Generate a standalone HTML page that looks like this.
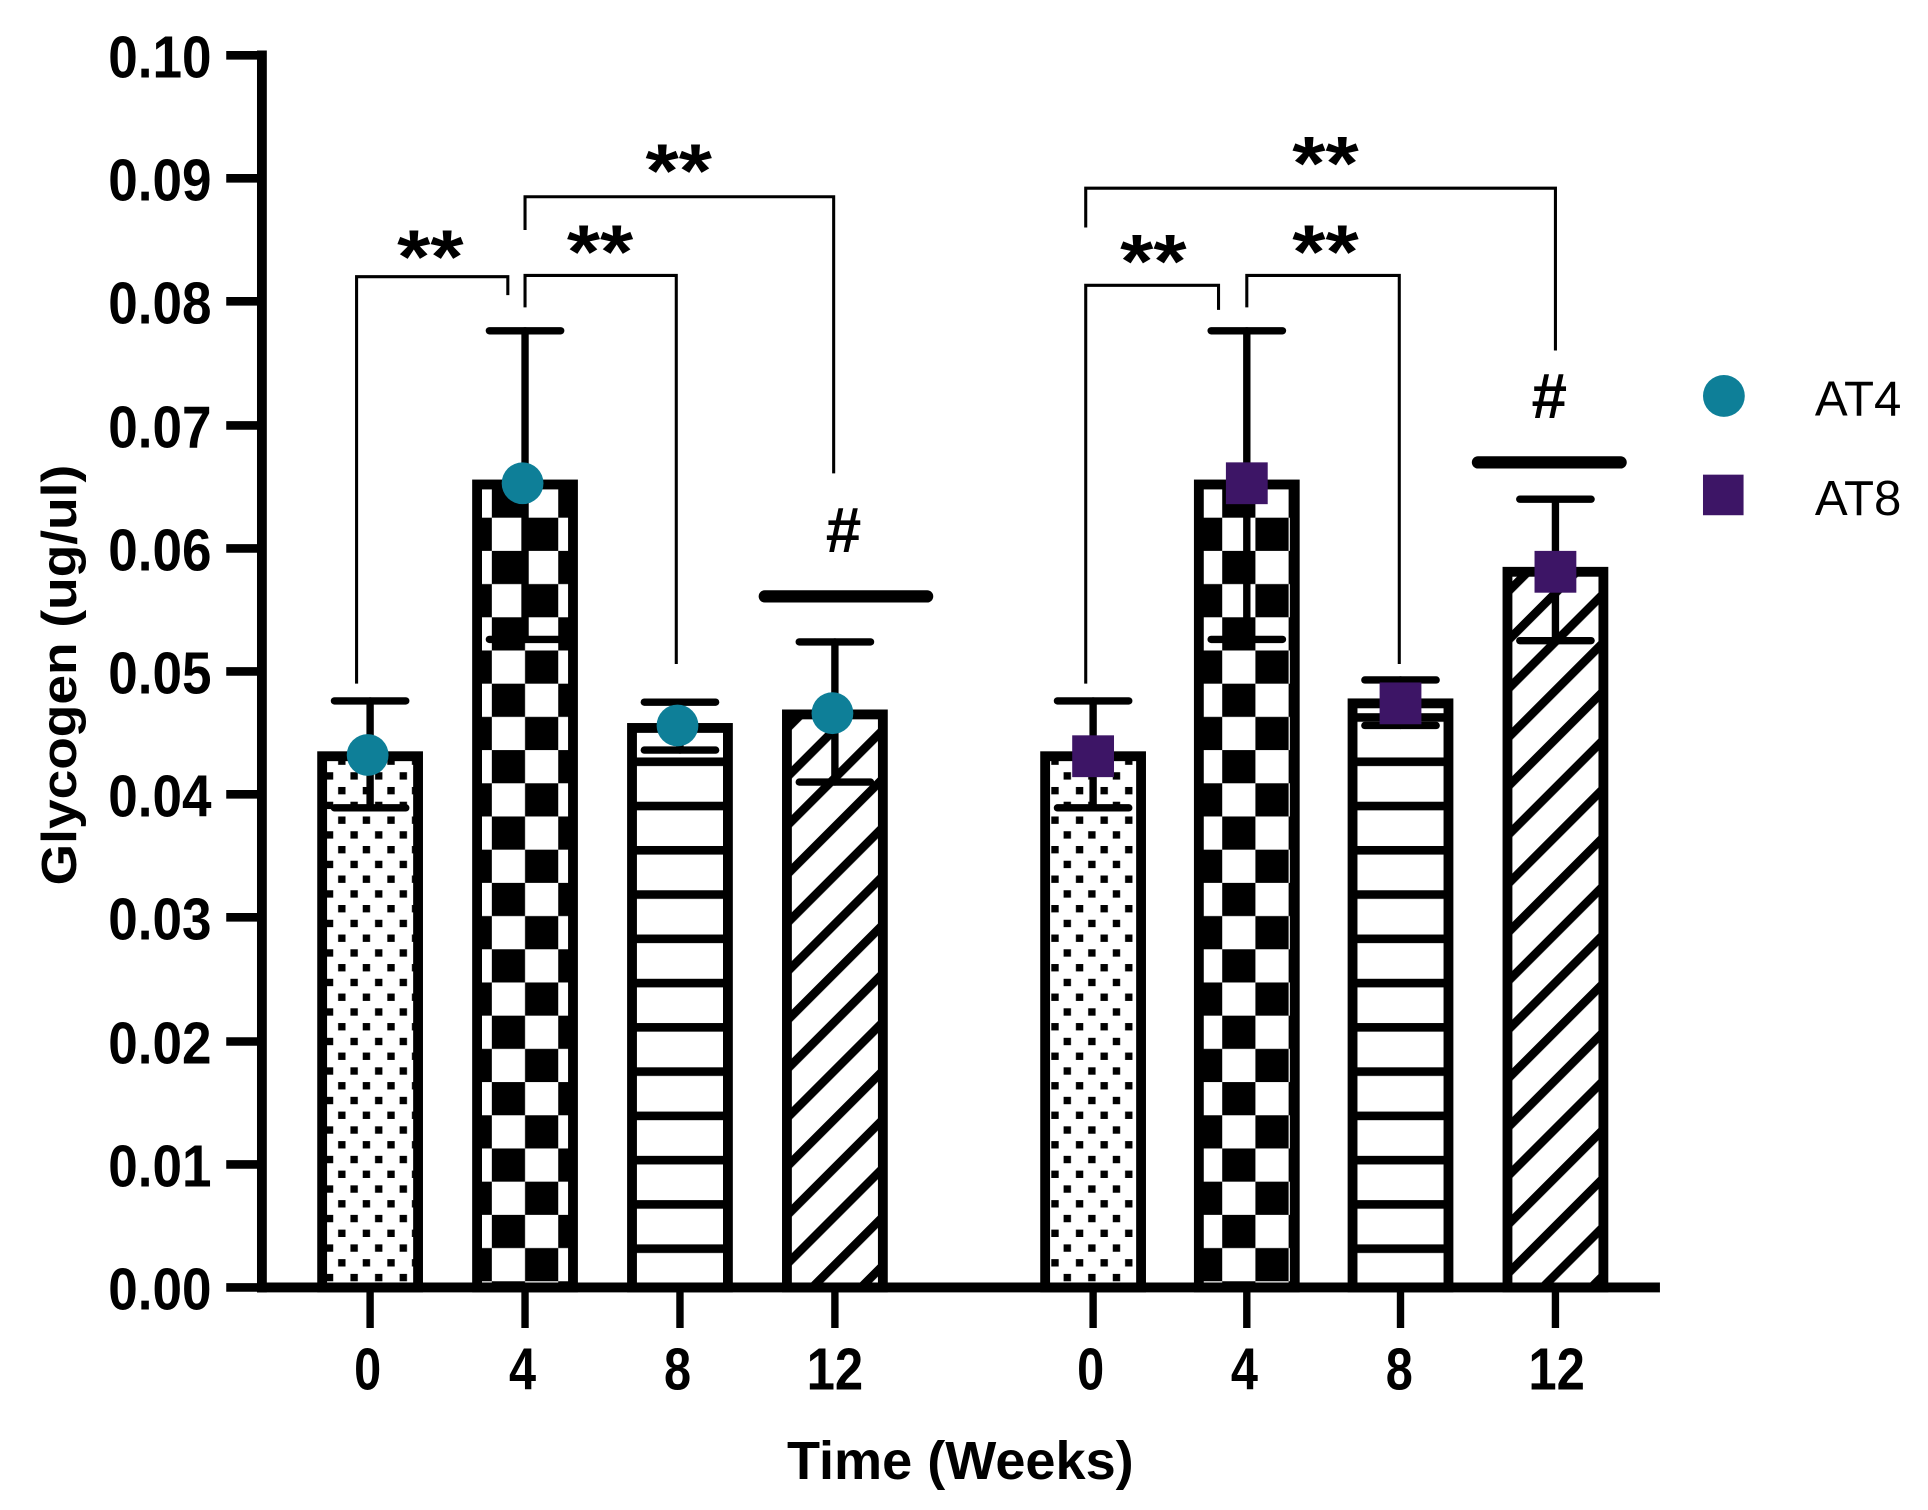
<!DOCTYPE html>
<html><head><meta charset="utf-8"><style>html,body{margin:0;padding:0;background:#fff}svg{display:block}</style></head>
<body>
<svg width="1928" height="1510" viewBox="0 0 1568 1228" xmlns="http://www.w3.org/2000/svg">
<defs>
<pattern id="dots" width="20" height="24" patternUnits="userSpaceOnUse" x="262" y="0">
<rect x="3" y="4" width="6" height="6" fill="#000"/><rect x="13" y="16" width="6" height="6" fill="#000"/>
</pattern>
<pattern id="chk" width="54" height="54" patternUnits="userSpaceOnUse" x="400" y="394">
<rect x="0" y="0" width="27" height="27" fill="#000"/><rect x="27" y="27" width="27" height="27" fill="#000"/>
</pattern>
<pattern id="hl" width="20" height="36" patternUnits="userSpaceOnUse" y="4">
<rect x="0" y="0" width="20" height="7" fill="#000"/>
</pattern>
<pattern id="diag" width="28" height="28" patternUnits="userSpaceOnUse" patternTransform="rotate(45)">
<rect x="0" y="0" width="7" height="28" fill="#000"/>
</pattern>
</defs>
<g font-family="'Liberation Sans', Arial, sans-serif" font-weight="bold" fill="#000">
<g stroke="#000" stroke-width="7">
<line x1="184" y1="45" x2="213" y2="45"/><line x1="184" y1="145" x2="213" y2="145"/><line x1="184" y1="245" x2="213" y2="245"/>
<line x1="184" y1="346" x2="213" y2="346"/><line x1="184" y1="446" x2="213" y2="446"/><line x1="184" y1="546" x2="213" y2="546"/>
<line x1="184" y1="646" x2="213" y2="646"/><line x1="184" y1="746" x2="213" y2="746"/><line x1="184" y1="847" x2="213" y2="847"/>
<line x1="184" y1="947" x2="213" y2="947"/><line x1="184" y1="1047" x2="213" y2="1047"/>
</g>
<g font-size="48" text-anchor="end">
<text x="172" y="63" textLength="84" lengthAdjust="spacingAndGlyphs">0.10</text>
<text x="172" y="163" textLength="84" lengthAdjust="spacingAndGlyphs">0.09</text>
<text x="172" y="263" textLength="84" lengthAdjust="spacingAndGlyphs">0.08</text>
<text x="172" y="364" textLength="84" lengthAdjust="spacingAndGlyphs">0.07</text>
<text x="172" y="464" textLength="84" lengthAdjust="spacingAndGlyphs">0.06</text>
<text x="172" y="564" textLength="84" lengthAdjust="spacingAndGlyphs">0.05</text>
<text x="172" y="664" textLength="84" lengthAdjust="spacingAndGlyphs">0.04</text>
<text x="172" y="764" textLength="84" lengthAdjust="spacingAndGlyphs">0.03</text>
<text x="172" y="865" textLength="84" lengthAdjust="spacingAndGlyphs">0.02</text>
<text x="172" y="965" textLength="84" lengthAdjust="spacingAndGlyphs">0.01</text>
<text x="172" y="1065" textLength="84" lengthAdjust="spacingAndGlyphs">0.00</text>
</g>
<text transform="translate(62,549) rotate(-90)" font-size="40" text-anchor="middle" textLength="342" lengthAdjust="spacingAndGlyphs">Glycogen (ug/ul)</text>

<g stroke="#000" stroke-width="8">
<rect x="262" y="615" width="78" height="432" fill="url(#dots)"/>
<rect x="388" y="394" width="78" height="653" fill="url(#chk)"/>
<rect x="514" y="592" width="78" height="455" fill="url(#hl)"/>
<rect x="640" y="581" width="78" height="466" fill="url(#diag)"/>
<rect x="850" y="615" width="78" height="432" fill="url(#dots)"/>
<rect x="975" y="394" width="78" height="653" fill="url(#chk)"/>
<rect x="1100" y="572" width="78" height="475" fill="url(#hl)"/>
<rect x="1226" y="465" width="78" height="582" fill="url(#diag)"/>
</g>
<g stroke="#000" stroke-width="6" stroke-linecap="round">
<line x1="301" y1="570" x2="301" y2="657"/><line x1="272" y1="570" x2="330" y2="570"/><line x1="272" y1="657" x2="330" y2="657"/>
<line x1="427" y1="269" x2="427" y2="520"/><line x1="398" y1="269" x2="456" y2="269"/><line x1="398" y1="520" x2="456" y2="520"/>
<line x1="553" y1="571" x2="553" y2="610"/><line x1="524" y1="571" x2="582" y2="571"/><line x1="524" y1="610" x2="582" y2="610"/>
<line x1="679" y1="522" x2="679" y2="636"/><line x1="650" y1="522" x2="708" y2="522"/><line x1="650" y1="636" x2="708" y2="636"/>
<line x1="889" y1="570" x2="889" y2="657"/><line x1="860" y1="570" x2="918" y2="570"/><line x1="860" y1="657" x2="918" y2="657"/>
<line x1="1014" y1="269" x2="1014" y2="520"/><line x1="985" y1="269" x2="1043" y2="269"/><line x1="985" y1="520" x2="1043" y2="520"/>
<line x1="1139" y1="553" x2="1139" y2="590"/><line x1="1110" y1="553" x2="1168" y2="553"/><line x1="1110" y1="590" x2="1168" y2="590"/>
<line x1="1265" y1="406" x2="1265" y2="521"/><line x1="1236" y1="406" x2="1294" y2="406"/><line x1="1236" y1="521" x2="1294" y2="521"/>
</g>
<g fill="#0e7f98">
<circle cx="299" cy="614" r="17"/><circle cx="425" cy="393" r="17"/><circle cx="551" cy="590" r="17"/><circle cx="677" cy="580" r="17"/>
</g>
<g fill="#3d1566">
<rect x="872" y="598" width="34" height="34"/><rect x="997" y="376" width="34" height="34"/><rect x="1122" y="555" width="34" height="34"/><rect x="1248" y="448" width="34" height="34"/>
</g>
<line x1="213" y1="41" x2="213" y2="1051" stroke="#000" stroke-width="8"/>
<line x1="209" y1="1047" x2="1350" y2="1047" stroke="#000" stroke-width="8"/>
<g stroke="#000" stroke-width="6">
<line x1="301" y1="1047" x2="301" y2="1080"/><line x1="427" y1="1047" x2="427" y2="1080"/><line x1="553" y1="1047" x2="553" y2="1080"/><line x1="679" y1="1047" x2="679" y2="1080"/>
<line x1="889" y1="1047" x2="889" y2="1080"/><line x1="1014" y1="1047" x2="1014" y2="1080"/><line x1="1139" y1="1047" x2="1139" y2="1080"/><line x1="1265" y1="1047" x2="1265" y2="1080"/>
</g>
<g font-size="48" text-anchor="middle">
<text x="299" y="1130" textLength="22" lengthAdjust="spacingAndGlyphs">0</text><text x="425" y="1130" textLength="22" lengthAdjust="spacingAndGlyphs">4</text><text x="551" y="1130" textLength="22" lengthAdjust="spacingAndGlyphs">8</text><text x="679" y="1130" textLength="46" lengthAdjust="spacingAndGlyphs">12</text>
<text x="887" y="1130" textLength="22" lengthAdjust="spacingAndGlyphs">0</text><text x="1012" y="1130" textLength="22" lengthAdjust="spacingAndGlyphs">4</text><text x="1138" y="1130" textLength="22" lengthAdjust="spacingAndGlyphs">8</text><text x="1266" y="1130" textLength="46" lengthAdjust="spacingAndGlyphs">12</text>
</g>
<text x="781" y="1203" font-size="44" text-anchor="middle" textLength="282" lengthAdjust="spacingAndGlyphs">Time (Weeks)</text>
<g stroke="#000" stroke-width="2.5" fill="none">
<polyline points="290,556 290,225 413,225 413,240"/>
<polyline points="427,250 427,224 550,224 550,540"/>
<polyline points="427,187 427,160 678,160 678,385"/>
<polyline points="883,556 883,232 991,232 991,252"/>
<polyline points="1014,250 1014,224 1138,224 1138,540"/>
<polyline points="883,185 883,153 1265,153 1265,285"/>
</g>
<g font-size="62" text-anchor="middle">
<text x="350" y="230" textLength="54" lengthAdjust="spacingAndGlyphs">**</text><text x="488" y="226" textLength="54" lengthAdjust="spacingAndGlyphs">**</text><text x="552" y="160" textLength="54" lengthAdjust="spacingAndGlyphs">**</text>
<text x="938" y="234" textLength="54" lengthAdjust="spacingAndGlyphs">**</text><text x="1078" y="226" textLength="54" lengthAdjust="spacingAndGlyphs">**</text><text x="1078" y="154" textLength="54" lengthAdjust="spacingAndGlyphs">**</text>
</g>
<g font-size="52" text-anchor="middle">
<text x="686" y="449">#</text><text x="1260" y="340">#</text>
</g>
<g stroke="#000" stroke-width="10" stroke-linecap="round">
<line x1="622" y1="485" x2="754" y2="485"/><line x1="1202" y1="376" x2="1318" y2="376"/>
</g>
<circle cx="1402" cy="322" r="17" fill="#0e7f98"/>
<rect x="1385" y="386" width="33" height="33" fill="#3d1566"/>
<g font-weight="normal" font-size="40">
<text x="1476" y="338">AT4</text><text x="1476" y="419">AT8</text>
</g>
</g>
</svg>
</body></html>
